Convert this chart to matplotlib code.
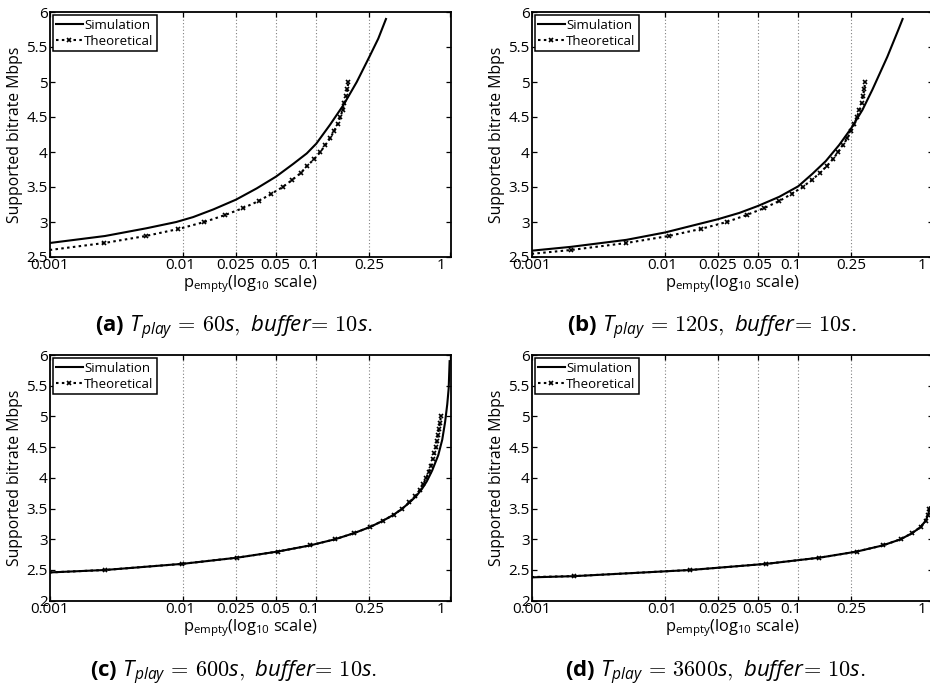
import matplotlib
matplotlib.use("Agg")
import matplotlib.pyplot as plt
from matplotlib.ticker import FixedLocator, FixedFormatter, NullLocator
from matplotlib.transforms import ScaledTranslation

plt.rcParams['font.family'] = ['Open Sans', 'DejaVu Sans']
plt.rcParams['mathtext.fontset'] = 'custom'
plt.rcParams['mathtext.rm'] = 'cmr10'
plt.rcParams['mathtext.it'] = 'Open Sans:italic'
plt.rcParams['mathtext.bf'] = 'Open Sans:bold'
plt.rcParams['mathtext.sf'] = 'Open Sans'
plt.rcParams['axes.unicode_minus'] = False

# ---- data: p_empty vs supported bitrate (Mbps) ----
# (a) T_play = 60 s
a_sim_p = [0.001, 0.0026, 0.0053, 0.0089, 0.0119, 0.0169, 0.025, 0.0357, 0.05,
           0.0671, 0.0848, 0.1, 0.1268, 0.1596, 0.201, 0.25, 0.2916, 0.333]
a_sim_rate = [2.70, 2.80, 2.91, 3.00, 3.07, 3.18, 3.32, 3.48, 3.65,
              3.83, 3.98, 4.12, 4.39, 4.67, 5.00, 5.36, 5.62, 5.90]
a_th_p = [0.001, 0.00257, 0.00525, 0.00923, 0.01445, 0.0207, 0.0283, 0.0370, 0.0457,
          0.0560, 0.0658, 0.0764, 0.0851, 0.0966, 0.1072, 0.1169, 0.1274, 0.1358,
          0.1449, 0.1514, 0.1578, 0.1622, 0.1671, 0.1711, 0.1738]
a_th_rate = [2.6, 2.7, 2.8, 2.9, 3.0, 3.1, 3.2, 3.3, 3.4, 3.5, 3.6, 3.7, 3.8,
             3.9, 4.0, 4.1, 4.2, 4.3, 4.4, 4.5, 4.6, 4.7, 4.8, 4.9, 5.0]

# (b) T_play = 120 s
b_sim_p = [0.001, 0.00197, 0.00514, 0.01, 0.025, 0.0362, 0.05, 0.0721, 0.1,
           0.128, 0.161, 0.2028, 0.25, 0.303, 0.36, 0.466, 0.562, 0.607]
b_sim_rate = [2.59, 2.645, 2.745, 2.85, 3.04, 3.13, 3.23, 3.36, 3.51,
              3.69, 3.87, 4.10, 4.34, 4.60, 4.89, 5.36, 5.74, 5.90]
b_th_p = [0.001, 0.00197, 0.00514, 0.01067, 0.0185, 0.0291, 0.0410, 0.0557, 0.0721,
          0.0891, 0.1077, 0.1264, 0.1452, 0.1640, 0.1828, 0.1990, 0.2173, 0.2339,
          0.2489, 0.2636, 0.2760, 0.2876, 0.2992, 0.3062, 0.3133, 0.3170]
b_th_rate = [2.545, 2.6, 2.7, 2.8, 2.9, 3.0, 3.1, 3.2, 3.3, 3.4, 3.5, 3.6, 3.7, 3.8,
             3.9, 4.0, 4.1, 4.2, 4.3, 4.4, 4.5, 4.6, 4.7, 4.8, 4.9, 5.0]

# (c) T_play = 600 s
c_sim_p = [0.001, 0.0026, 0.0099, 0.0254, 0.0513, 0.0897, 0.138, 0.192, 0.253,
           0.315, 0.381, 0.442, 0.50, 0.56, 0.62, 0.673, 0.74, 0.822, 0.88,
           0.925, 0.96, 0.984, 1.0]
c_sim_rate = [2.46, 2.50, 2.60, 2.70, 2.80, 2.90, 3.00, 3.10, 3.20,
              3.30, 3.40, 3.50, 3.60, 3.70, 3.82, 3.94, 4.12, 4.37, 4.62,
              4.91, 5.20, 5.46, 5.90]
c_th_p = [0.001, 0.0026, 0.00989, 0.0254, 0.0513, 0.0897, 0.138, 0.192, 0.253,
          0.315, 0.381, 0.442, 0.499, 0.553, 0.595, 0.633, 0.668, 0.697, 0.724,
          0.746, 0.767, 0.791, 0.803, 0.818, 0.832, 0.847, 0.861]
c_th_rate = [2.46, 2.5, 2.6, 2.7, 2.8, 2.9, 3.0, 3.1, 3.2, 3.3, 3.4, 3.5, 3.6, 3.7,
             3.8, 3.9, 4.0, 4.1, 4.2, 4.3, 4.4, 4.5, 4.6, 4.7, 4.8, 4.9, 5.0]

# (d) T_play = 3600 s
d_sim_p = [0.001, 0.0021, 0.0155, 0.0577, 0.144, 0.275, 0.431, 0.586, 0.716,
           0.828, 0.902, 0.944, 0.97]
d_sim_rate = [2.38, 2.40, 2.50, 2.60, 2.70, 2.80, 2.90, 3.00, 3.10,
              3.20, 3.30, 3.40, 3.52]
d_th_p = [0.001, 0.00209, 0.0155, 0.0577, 0.144, 0.275, 0.431, 0.586, 0.716,
          0.828, 0.902, 0.944, 0.965]
d_th_rate = [2.385, 2.4, 2.5, 2.6, 2.7, 2.8, 2.9, 3.0, 3.1, 3.2, 3.3, 3.4, 3.5]

x_ticks = [0.001, 0.01, 0.025, 0.05, 0.1, 0.25, 1]
x_tick_labels = ['0.001', '0.01', '0.025', '0.05', '0.1', '0.25', '1']
x_label_shift_px = [0, -3, 0, -1, -7, 0, -9]
grid_p = [0.01, 0.025, 0.05, 0.1, 0.25]
y_ticks_ab = [2.5, 3, 3.5, 4, 4.5, 5, 5.5, 6]
y_ticks_cd = [2, 2.5, 3, 3.5, 4, 4.5, 5, 5.5, 6]

captions = [
    r"$\mathbf{(a)}\ \mathit{T_{play}}\,=\,60\mathit{s},\ \mathit{buffer}\!=\,10\mathit{s}.$",
    r"$\mathbf{(b)}\ \mathit{T_{play}}\,=\,120\mathit{s},\ \mathit{buffer}\!=\,10\mathit{s}.$",
    r"$\mathbf{(c)}\ \mathit{T_{play}}\,=\,600\mathit{s},\ \mathit{buffer}\!=\,10\mathit{s}.$",
    r"$\mathbf{(d)}\ \mathit{T_{play}}\,=\,3600\mathit{s},\ \mathit{buffer}\!=\,10\mathit{s}.$",
]

W, H = 930.0, 689.0
panels = [
    # left, bottom, width, height in pixels; y range; series
    dict(rect=(49.7, H - 257, 401.3, 245), ylim=(2.5, 6), yt=y_ticks_ab,
         sim=(a_sim_p, a_sim_rate), th=(a_th_p, a_th_rate), cap_xy=(234, 328)),
    dict(rect=(531.6, H - 257, 401.3, 245), ylim=(2.5, 6), yt=y_ticks_ab,
         sim=(b_sim_p, b_sim_rate), th=(b_th_p, b_th_rate), cap_xy=(712, 328)),
    dict(rect=(49.7, H - 600.7, 401.3, 245.7), ylim=(2, 6), yt=y_ticks_cd,
         sim=(c_sim_p, c_sim_rate), th=(c_th_p, c_th_rate), cap_xy=(234, 673)),
    dict(rect=(531.6, H - 600.7, 401.3, 245.7), ylim=(2, 6), yt=y_ticks_cd,
         sim=(d_sim_p, d_sim_rate), th=(d_th_p, d_th_rate), cap_xy=(715, 673)),
]

fig = plt.figure(figsize=(W / 100, H / 100), dpi=100)
fig.patch.set_facecolor('white')

for pnl, cap in zip(panels, captions):
    l, b, w, h = pnl['rect']
    ax = fig.add_axes([l / W, b / H, w / W, h / H])
    ax.set_xscale('log')
    ax.set_xlim(0.001, 1.024)
    ax.set_ylim(*pnl['ylim'])

    for gp in grid_p:
        ax.axvline(gp, color='0.5', linestyle=(0, (1, 2)), linewidth=0.8, zorder=0)

    sp, sr = pnl['sim']
    tp, tr = pnl['th']
    ax.plot(sp, sr, color='black', linewidth=1.5, label='Simulation', zorder=3)
    ax.plot(tp, tr, color='black', linestyle=(0, (1.2, 1.6)), linewidth=1.5,
            marker='x', markersize=3.2, markeredgewidth=1.2,
            markevery=slice(1, None), label='Theoretical', zorder=3)

    ax.xaxis.set_major_locator(FixedLocator(x_ticks))
    ax.xaxis.set_major_formatter(FixedFormatter(x_tick_labels))
    ax.xaxis.set_minor_locator(NullLocator())
    ax.set_yticks(pnl['yt'])
    ax.set_yticklabels([f"{v:g}" for v in pnl['yt']])
    ax.tick_params(axis='both', which='major', direction='in', length=3.5,
                   width=0.9, top=True, right=True, labelsize=11, colors='black')
    ax.tick_params(axis='x', pad=1.0)
    ax.tick_params(axis='y', pad=1.5)
    for tick, dx in zip(ax.xaxis.get_major_ticks(), x_label_shift_px):
        if dx:
            tick.label1.set_transform(tick.label1.get_transform() +
                                      ScaledTranslation(dx / 100, 0, fig.dpi_scale_trans))
    for s in ax.spines.values():
        s.set_linewidth(1.3)
        s.set_color('black')

    ax.set_ylabel('Supported bitrate Mbps', fontsize=11.3, labelpad=2)
    ax.set_xlabel(r'p$_{\mathsf{empty}}$(log$_{\mathsf{10}}$ scale)', fontsize=11.8, labelpad=0)

    leg = ax.legend(loc='upper left', fontsize=9.5, frameon=True, fancybox=False,
                    edgecolor='black', borderaxespad=0.25, borderpad=0.25,
                    labelspacing=0.25, handlelength=2.0, handletextpad=0.1,
                    numpoints=1)
    leg.get_frame().set_linewidth(1.1)
    leg.get_frame().set_alpha(1)

    cx, cy = pnl['cap_xy']
    fig.text(cx / W, 1 - cy / H, cap, ha='center', va='center', fontsize=16)

fig.savefig('out.png', dpi=100, facecolor='white')
